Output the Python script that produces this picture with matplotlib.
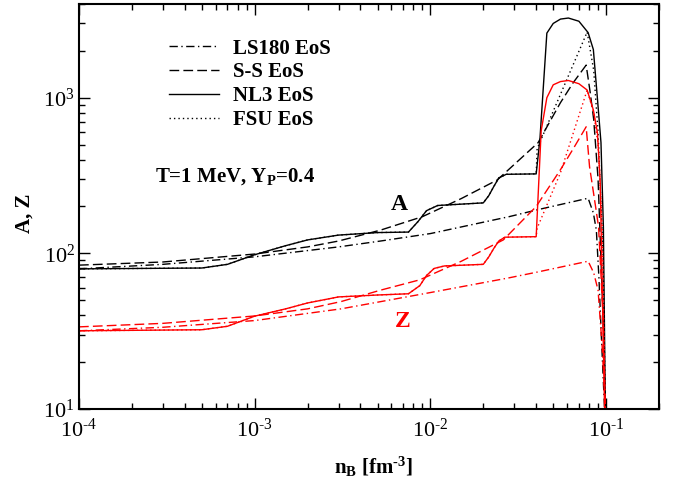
import matplotlib
matplotlib.use("Agg")
import math
import matplotlib.pyplot as plt
from matplotlib.lines import Line2D
from matplotlib.ticker import LogLocator, NullFormatter, FuncFormatter

plt.rcParams['font.family'] = ['Liberation Serif', 'DejaVu Serif']
plt.rcParams['mathtext.fontset'] = 'custom'
plt.rcParams['mathtext.rm'] = 'Liberation Serif'
plt.rcParams['mathtext.it'] = 'Liberation Serif:italic'
plt.rcParams['mathtext.bf'] = 'Liberation Serif:bold'

# ---------------- data ----------------
# LS180 EoS
x_ls_A = [1e-4, 3e-4, 1e-3, 3e-3, 5.2e-3, 1e-2, 2.8e-2, 4.1e-2, 7.9e-2, 8.46e-2, 8.8e-2, 9.1e-2, 9.4e-2, 9.8e-2]
A_ls = [79.5, 85, 95, 110, 120, 134, 172, 191, 226, 182, 141, 70, 29, 10]
x_ls_Z = [1e-4, 3e-4, 1e-3, 3.1e-3, 1e-2, 2.8e-2, 4.1e-2, 7.9e-2, 8.5e-2, 9.0e-2, 9.5e-2, 9.9e-2]
Z_ls = [31.8, 33.5, 37, 44, 56, 69.6, 76, 89, 75, 58, 25, 10]

# S-S EoS
x_ss_A = [1e-4, 3e-4, 1e-3, 2e-3, 3e-3, 5.2e-3, 9e-3, 1.5e-2, 2.4e-2, 4.1e-2, 5.5e-2, 6.5e-2, 7.7e-2, 8.1e-2, 8.5e-2, 9.0e-2, 9.6e-2, 9.9e-2]
A_ss = [84, 88, 99, 110, 120, 141, 172, 225, 296, 514, 930, 1250, 1620, 1100, 725, 300, 40, 10]
x_ss_Z = [1e-4, 3e-4, 1e-3, 2e-3, 3.1e-3, 5.2e-3, 8.7e-3, 1.5e-2, 2.6e-2, 4.0e-2, 5.5e-2, 6.5e-2, 7.7e-2, 8.05e-2, 8.6e-2, 9.06e-2, 9.6e-2, 9.9e-2]
Z_ss = [33.7, 35.5, 39.6, 44, 49, 58, 67.6, 89, 122, 200, 345, 470, 650, 360, 220, 148, 40, 10]

# NL3 EoS
x_nl_A = [1e-4, 5e-4, 7e-4, 1e-3, 1.5e-3, 2e-3, 3e-3, 5e-3, 7.5e-3, 8.5e-3, 9.5e-3, 1.1e-2,
          2e-2, 2.15e-2, 2.3e-2, 2.45e-2, 2.7e-2, 4.0e-2, 4.2e-2, 4.6e-2, 5.0e-2, 5.5e-2,
          6.1e-2, 7.0e-2, 7.9e-2, 8.46e-2, 8.93e-2, 9.35e-2, 9.65e-2, 9.9e-2]
A_nl = [79.5, 80.5, 85, 98, 112, 122, 131, 136, 137, 160, 188, 203,
        211, 235, 270, 305, 322, 324, 540, 2600, 3000, 3200,
        3250, 3100, 2620, 2040, 980, 515, 148, 10]
x_nl_Z = [1e-4, 5e-4, 7e-4, 1e-3, 1.5e-3, 2e-3, 3e-3, 5e-3, 7.5e-3, 8.7e-3, 9.5e-3, 1.05e-2, 1.2e-2,
          2e-2, 2.15e-2, 2.3e-2, 2.45e-2, 2.65e-2, 4.0e-2, 4.27e-2, 4.6e-2, 5.0e-2, 5.5e-2,
          6.1e-2, 7.0e-2, 7.8e-2, 8.46e-2, 8.93e-2, 9.26e-2, 9.8e-2]
Z_nl = [31.8, 32.3, 34, 39.5, 44, 48, 52.5, 54, 55, 62, 72, 80, 83,
        85, 95, 108, 120, 127, 128, 612, 1000, 1210, 1270,
        1290, 1230, 1120, 835, 593, 283, 10]

# FSU EoS (coincides with NL3 at low density)
x_fsu_A = [1e-4, 5e-4, 7e-4, 1e-3, 1.5e-3, 2e-3, 3e-3, 5e-3, 7.5e-3, 8.5e-3, 9.5e-3, 1.1e-2,
           2e-2, 2.15e-2, 2.3e-2, 2.45e-2, 2.7e-2, 4.0e-2, 4.05e-2, 7.8e-2, 8.5e-2, 9.0e-2, 9.6e-2, 9.9e-2]
A_fsu = [79.5, 80.5, 85, 98, 112, 122, 131, 136, 137, 160, 188, 203,
         211, 235, 270, 305, 322, 324, 470, 2640, 1500, 600, 100, 10]
x_fsu_Z = [1e-4, 5e-4, 7e-4, 1e-3, 1.5e-3, 2e-3, 3e-3, 5e-3, 7.5e-3, 8.7e-3, 9.5e-3, 1.05e-2, 1.2e-2,
           2e-2, 2.15e-2, 2.3e-2, 2.45e-2, 2.65e-2, 4.0e-2, 4.05e-2, 5.5e-2, 7.8e-2, 8.5e-2, 9.0e-2, 9.5e-2, 9.9e-2]
Z_fsu = [31.8, 32.3, 34, 39.5, 44, 48, 52.5, 54, 55, 62, 72, 80, 83,
         85, 95, 108, 120, 127, 128, 145, 330, 1120, 800, 500, 150, 10]

legend_labels = ["LS180 EoS", "S-S EoS", "NL3 EoS", "FSU EoS"]

# ---------------- styles ----------------
ls_dashdot = (0, (6, 2.5, 1, 2.5))
ls_dash = (0, (7, 3))
ls_dot = (0, (1, 2.2))
lw = 1.0

fig = plt.figure(figsize=(6.8, 4.87), dpi=100)
ax = fig.add_axes([79/680, 1-409/487, 580/680, 405/487])

for col, data in (("black", [(x_ls_A, A_ls, ls_dashdot), (x_ss_A, A_ss, ls_dash),
                             (x_nl_A, A_nl, '-'), (x_fsu_A, A_fsu, ls_dot)]),
                  ("red", [(x_ls_Z, Z_ls, ls_dashdot), (x_ss_Z, Z_ss, ls_dash),
                           (x_nl_Z, Z_nl, '-'), (x_fsu_Z, Z_fsu, ls_dot)])):
    for xx, yy, ls in data:
        ax.plot(xx, yy, color=col, linestyle=ls, linewidth=lw)

ax.set_xscale('log')
ax.set_yscale('log')
ax.set_xlim(1e-4, 0.2)
ax.set_ylim(10, 4000)


def pow_fmt(v, pos):
    e = int(round(math.log10(v)))
    if e < 0:
        return r"$\mathdefault{10^{\text{-}%d}}$" % (-e)
    return r"$\mathdefault{10^{%d}}$" % e


ax.xaxis.set_major_locator(LogLocator(base=10, numticks=10))
ax.xaxis.set_minor_locator(LogLocator(base=10, subs=range(2, 10), numticks=20))
ax.yaxis.set_major_locator(LogLocator(base=10, numticks=10))
ax.yaxis.set_minor_locator(LogLocator(base=10, subs=range(2, 10), numticks=20))
ax.xaxis.set_major_formatter(FuncFormatter(pow_fmt))
ax.yaxis.set_major_formatter(FuncFormatter(pow_fmt))
ax.xaxis.set_minor_formatter(NullFormatter())
ax.yaxis.set_minor_formatter(NullFormatter())

ax.tick_params(which='both', direction='in', top=True, right=True, labelsize=16, width=1.0)
ax.tick_params(which='major', length=8)
ax.tick_params(which='minor', length=4)
ax.tick_params(axis='x', which='major', pad=7)
ax.tick_params(axis='y', which='major', pad=3)
for sp in ax.spines.values():
    sp.set_linewidth(1.5)

# legend
handles = [Line2D([], [], color='black', linestyle=s, linewidth=lw)
           for s in (ls_dashdot, ls_dash, '-', ls_dot)]
leg = ax.legend(handles, legend_labels, loc='upper left', bbox_to_anchor=(0.14, 0.935),
                frameon=False, handlelength=2.4, handletextpad=0.7, labelspacing=0.18,
                borderaxespad=0.0, prop={'family': 'Liberation Serif', 'weight': 'bold', 'size': 15})

ax.text(0.131, 0.573, r"T=1 MeV, Y$_\mathbf{P}$=0.4", transform=ax.transAxes,
        fontsize=15, fontweight='bold', ha='left', va='center')
ax.text(0.553, 0.504, "A", transform=ax.transAxes, fontsize=17, fontweight='bold',
        ha='center', va='center', color='black')
ax.text(0.559, 0.215, "Z", transform=ax.transAxes, fontsize=17, fontweight='bold',
        ha='center', va='center', color='red')

fig.text(25/680, 1-213/487, "A, Z", rotation=90, ha='center', va='center',
         fontsize=15, fontweight='bold')
fig.text(373/680, 1-467/487, r"n$_\mathbf{B}$ [fm$^\mathbf{\text{-}3}$]", ha='center', va='center',
         fontsize=15, fontweight='bold')

fig.savefig("out.png", dpi=100)
